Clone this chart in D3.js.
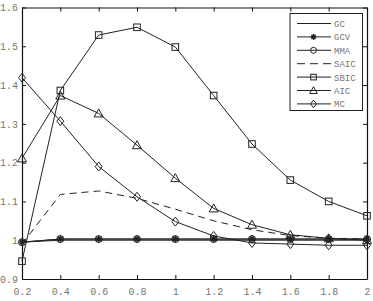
<!DOCTYPE html>
<html lang="en">
<head>
    <meta charset="UTF-8">
    <title>criteria</title>
    <script src="https://cdnjs.cloudflare.com/ajax/libs/d3/7.8.5/d3.min.js"></script>
    <style>
        body { margin: 0; background: #fff; }
        text { font-family: "Liberation Mono", "DejaVu Sans Mono", monospace; fill: #777; }
    </style>
</head>
<body>
    <div id="chart"></div>
    <script>
        // data
        const xs = [0.2, 0.4, 0.6, 0.8, 1.0, 1.2, 1.4, 1.6, 1.8, 2.0]
        const names = ['GC', 'GCV', 'MMA', 'SAIC', 'SBIC', 'AIC', 'MC']
        const gc   = [0.995, 1.0, 1.0, 1.0, 1.0, 1.0, 1.0, 1.0, 1.0, 1.0]
        const gcv  = [0.995, 1.003, 1.003, 1.003, 1.003, 1.003, 1.003, 1.003, 1.003, 1.003]
        const mma  = [0.995, 1.003, 1.003, 1.003, 1.003, 1.003, 1.003, 1.003, 1.003, 1.003]
        const saic = [0.99, 1.118, 1.127, 1.108, 1.08, 1.05, 1.027, 1.012, 1.005, 1.003]
        const sbic = [0.946, 1.386, 1.529, 1.549, 1.498, 1.373, 1.248, 1.155, 1.1, 1.063]
        const aic  = [1.211, 1.373, 1.327, 1.245, 1.16, 1.082, 1.04, 1.014, 1.005, 1.0]
        const mc   = [1.419, 1.307, 1.19, 1.112, 1.048, 1.011, 0.993, 0.99, 0.987, 0.987]
        const xTicks = [0.2, 0.4, 0.6, 0.8, 1, 1.2, 1.4, 1.6, 1.8, 2]
        const yTicks = [0.9, 1.0, 1.1, 1.2, 1.3, 1.4, 1.5, 1.6]

        const series = [
            { name: names[0], values: gc, marker: null, dash: null },
            { name: names[1], values: gcv, marker: 'star', dash: null },
            { name: names[2], values: mma, marker: 'circle', dash: null },
            { name: names[3], values: saic, marker: null, dash: '7,5' },
            { name: names[4], values: sbic, marker: 'square', dash: null },
            { name: names[5], values: aic, marker: 'triangle', dash: null },
            { name: names[6], values: mc, marker: 'diamond', dash: null }
        ]

        const width = 373, height = 301
        const mLeft = 22, mRight = 367, mTop = 7.5, mBottom = 279

        const svg = d3.select('#chart').append('svg')
            .attr('width', width).attr('height', height)

        const x = d3.scaleLinear().domain([0.2, 2]).range([mLeft, mRight])
        const y = d3.scaleLinear().domain([0.9, 1.6]).range([mBottom, mTop])

        // matlab style labels: 1 and 2 without decimals
        const fmt = d => (Math.abs(d - Math.round(d)) < 1e-9) ? String(Math.round(d)) : d3.format('.1f')(d)

        // axes, ticks pointing inward, mirrored on top/right
        svg.append('g').attr('transform', `translate(0,${mBottom})`)
            .call(d3.axisBottom(x).tickValues(xTicks).tickSizeInner(-4).tickSizeOuter(0).tickPadding(9).tickFormat(fmt))
        svg.append('g').attr('transform', `translate(${mLeft},0)`)
            .call(d3.axisLeft(y).tickValues(yTicks).tickSizeInner(-4).tickSizeOuter(0).tickPadding(4).tickFormat(fmt))
        svg.append('g').attr('transform', `translate(0,${mTop})`)
            .call(d3.axisTop(x).tickValues(xTicks).tickSizeInner(-4).tickSizeOuter(0).tickFormat(''))
        svg.append('g').attr('transform', `translate(${mRight},0)`)
            .call(d3.axisRight(y).tickValues(yTicks).tickSizeInner(-4).tickSizeOuter(0).tickFormat(''))

        svg.selectAll('.domain').attr('stroke', '#111').attr('stroke-width', 1.2)
        svg.selectAll('.tick line').attr('stroke', '#111')
        svg.selectAll('.tick text').attr('font-size', 10)
            .style('font-family', '"Liberation Mono", monospace').attr('fill', '#808080')

        // markers
        function drawMarker(g, type, cx, cy, s = 1) {
            if (type === 'circle') {
                g.append('circle').attr('cx', cx).attr('cy', cy).attr('r', 3.5 * s)
                    .attr('fill', 'none').attr('stroke', '#222')
            } else if (type === 'square') {
                g.append('rect').attr('x', cx - 3.3 * s).attr('y', cy - 3.3 * s)
                    .attr('width', 6.6 * s).attr('height', 6.6 * s)
                    .attr('fill', 'none').attr('stroke', '#222')
            } else if (type === 'triangle') {
                g.append('path').attr('d', `M${cx},${cy - 4.5 * s}L${cx + 4.5 * s},${cy + 3.5 * s}L${cx - 4.5 * s},${cy + 3.5 * s}Z`)
                    .attr('fill', 'none').attr('stroke', '#222')
            } else if (type === 'diamond') {
                g.append('path').attr('d', `M${cx},${cy - 4.5 * s}L${cx + 3.5 * s},${cy}L${cx},${cy + 4.5 * s}L${cx - 3.5 * s},${cy}Z`)
                    .attr('fill', 'none').attr('stroke', '#222')
            } else if (type === 'star') {
                const r = 3.5 * s
                let d = ''
                for (let k = 0; k < 4; k++) {
                    const a = k * Math.PI / 4
                    d += `M${cx - r * Math.cos(a)},${cy - r * Math.sin(a)}L${cx + r * Math.cos(a)},${cy + r * Math.sin(a)}`
                }
                g.append('path').attr('d', d).attr('stroke', '#222').attr('stroke-width', 1.3)
            }
        }

        const line = d3.line().x(d => x(d[0])).y(d => y(d[1]))

        series.forEach(s => {
            const pts = xs.map((v, i) => [v, s.values[i]])
            const g = svg.append('g')
            g.append('path').datum(pts).attr('d', line)
                .attr('fill', 'none').attr('stroke', '#222').attr('stroke-width', 1)
                .attr('stroke-dasharray', s.dash)
            if (s.marker) pts.forEach(p => drawMarker(g, s.marker, x(p[0]), y(p[1])))
        })

        // legend
        const lg = svg.append('g')
        lg.append('rect').attr('x', 290).attr('y', 13.5).attr('width', 72.5).attr('height', 97)
            .attr('fill', '#fff').attr('stroke', '#222')
        series.forEach((s, i) => {
            const ly = 23.5 + i * 13.4
            lg.append('line').attr('x1', 297).attr('x2', 331).attr('y1', ly).attr('y2', ly)
                .attr('stroke', '#222').attr('stroke-dasharray', s.dash ? '8,5' : null)
            if (s.marker) drawMarker(lg, s.marker, 313.5, ly, 0.85)
            lg.append('text').attr('x', 334).attr('y', ly + 3.5).attr('font-size', 9).text(s.name)
        })
    </script>
</body>
</html>
